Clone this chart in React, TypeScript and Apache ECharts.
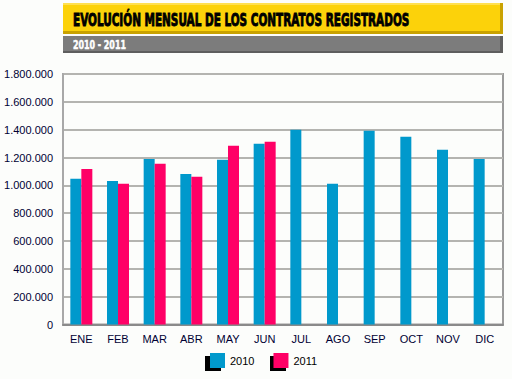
import React, { useEffect, useRef } from "react";
import * as echarts from "echarts";

const months = ["ENE", "FEB", "MAR", "ABR", "MAY", "JUN", "JUL", "AGO", "SEP", "OCT", "NOV", "DIC"];
const values2010 = [1047000, 1032000, 1190000, 1082000, 1183000, 1298000, 1399000, 1011000, 1392000, 1349000, 1255000, 1190000];
const values2011: (number | null)[] = [1118000, 1011000, 1155000, 1061000, 1284000, 1313000, null, null, null, null, null, null];
const seriesNames = ["2010", "2011"];
const colors = ["#0099cc", "#ff0066"];
const titleText = "EVOLUCIÓN MENSUAL DE LOS CONTRATOS REGISTRADOS";
const subtitleText = "2010 - 2011";

function fmt(v: number) {
  return String(Math.round(v)).replace(/\B(?=(\d{3})+(?!\d))/g, ".");
}

function measure(text: string, font: string) {
  const c = document.createElement("canvas").getContext("2d");
  if (!c) return 1;
  c.font = font;
  return c.measureText(text).width || 1;
}

export default function App() {
  const ref = useRef<HTMLDivElement>(null);
  useEffect(() => {
    if (!ref.current) return;
    const chart = echarts.init(ref.current, undefined, { renderer: "svg" });
    const titleFont = "bold 18px 'DejaVu Sans Condensed'";
    const subFont = "bold 12px 'DejaVu Sans Condensed'";
    const titleScale = 337 / measure(titleText, titleFont);
    const subScale = 53 / measure(subtitleText, subFont);
    chart.setOption({
      animation: false,
      backgroundColor: "#fcfdfb",
      grid: { left: 63, right: 9, top: 74, bottom: 54.5, show: true, borderColor: "#9a9a9a", borderWidth: 2, backgroundColor: "transparent" },
      xAxis: {
        type: "category",
        data: months,
        axisLine: { lineStyle: { color: "#8a8a8a", width: 2 } },
        axisTick: { show: false },
        axisLabel: { color: "#000033", fontFamily: "Liberation Sans, Arial", fontSize: 11, margin: 9 },
      },
      yAxis: {
        type: "value",
        min: 0,
        max: 1800000,
        interval: 200000,
        axisLine: { show: true, lineStyle: { color: "#a8a8a8", width: 2 } },
        axisTick: { show: false },
        splitLine: { lineStyle: { color: "#b4b4b0", width: 2 } },
        axisLabel: { color: "#000033", fontFamily: "Liberation Sans, Arial", fontSize: 11, margin: 10, formatter: (v: number) => fmt(v) },
      },
      legend: {
        left: 205,
        top: 348,
        itemWidth: 15,
        itemHeight: 15,
        itemGap: 19,
        icon: "rect",
        z: 10,
        textStyle: { color: "#000000", fontFamily: "Liberation Sans, Arial", fontSize: 11 },
        data: seriesNames,
      },
      graphic: [
        { type: "rect", z: 1, shape: { x: 63, y: 3, width: 440, height: 31 }, style: { fill: "#c9a200" } },
        { type: "rect", z: 2, shape: { x: 63, y: 3, width: 437, height: 28 }, style: { fill: "#fcd20a" } },
        { type: "rect", z: 2, shape: { x: 63, y: 3, width: 437, height: 2 }, style: { fill: "#ffe050" } },
        {
          type: "text", z: 3, x: 73, y: 20.5, scaleX: titleScale, originX: 0,
          style: { text: titleText, fill: "#000000", stroke: "#000000", lineWidth: 0.9, font: titleFont, textVerticalAlign: "middle" },
        },
        { type: "rect", z: 1, shape: { x: 63, y: 36, width: 440, height: 17 }, style: { fill: "#5e5e5e" } },
        { type: "rect", z: 2, shape: { x: 63, y: 36, width: 437, height: 15 }, style: { fill: "#7c7c7c" } },
        {
          type: "text", z: 3, x: 73, y: 44.5, scaleX: subScale, originX: 0,
          style: { text: subtitleText, fill: "#ffffff", stroke: "#ffffff", lineWidth: 0.5, font: subFont, textVerticalAlign: "middle" },
        },
        { type: "rect", z: 1, shape: { x: 205, y: 356, width: 16, height: 15 }, style: { fill: "#000000" } },
        { type: "rect", z: 1, shape: { x: 270, y: 356, width: 16, height: 15 }, style: { fill: "#000000" } },
      ],
      series: [
        { name: seriesNames[0], type: "bar", data: values2010, barWidth: 11, barGap: "0%", itemStyle: { color: colors[0] } },
        { name: seriesNames[1], type: "bar", data: values2011, barWidth: 11, barGap: "0%", itemStyle: { color: colors[1] } },
      ],
    });
    return () => chart.dispose();
  }, []);
  return <div ref={ref} style={{ position: "fixed", left: 0, top: 0, width: 512, height: 379 }} />;
}
